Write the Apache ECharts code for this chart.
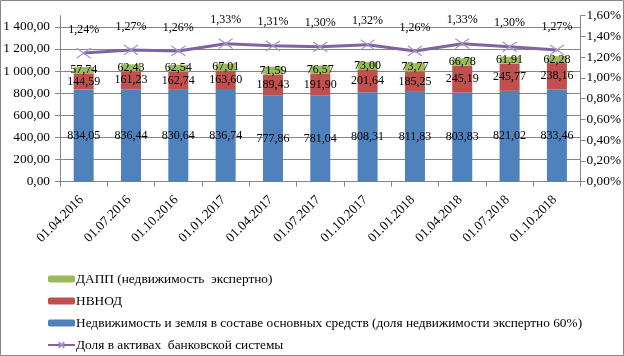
<!DOCTYPE html>
<html><head><meta charset="utf-8">
<script src="https://cdn.jsdelivr.net/npm/echarts@6/dist/echarts.min.js"></script>
<style>html,body{margin:0;padding:0;background:#fff}#c{width:624px;height:356px}</style>
</head><body><div id="c"></div>
<script>
const categories = ['01.04.2016','01.07.2016','01.10.2016','01.01.2017','01.04.2017','01.07.2017','01.10.2017','01.01.2018','01.04.2018','01.07.2018','01.10.2018'];
const realEstate = [834.05,836.44,830.64,836.74,777.86,781.04,808.31,811.83,803.83,821.02,833.46];
const nvnod = [144.59,161.23,162.74,163.60,189.43,191.90,201.64,185.25,245.19,245.77,238.16];
const dapp = [57.74,62.43,62.54,67.01,71.59,76.57,73.00,73.77,66.78,61.91,62.28];
const share = [1.24,1.27,1.26,1.33,1.31,1.30,1.32,1.26,1.33,1.30,1.27];
const names = ['ДАПП (недвижимость  экспертно)','НВНОД','Недвижимость и земля в составе основных средств (доля недвижимости экспертно 60%)','Доля в активах  банковской системы'];

const FONT = 'Liberation Serif';
const AX = 13.33;
const fmt2 = v => v.toFixed(2).replace('.', ',');
const fmtAxis = v => {
  const s = v.toFixed(2).replace('.', ',');
  const [i, d] = s.split(',');
  return i.replace(/\B(?=(\d{3})+(?!\d))/g, ' ') + ',' + d;
};
const barLabel = {show:true, position:'inside', color:'#000', fontFamily:FONT, fontSize:12, formatter:p=>fmt2(p.value)};

const chart = echarts.init(document.getElementById('c'));
chart.setOption({
  animation:false,
  textStyle:{fontFamily:FONT},
  graphic:[{type:'rect', shape:{x:0.5,y:0.5,width:623,height:355}, style:{fill:'none', stroke:'#868686', lineWidth:1}, silent:true}],
  grid:{left:60, right:43, top:15.7, bottom:174.3},
  legend:{
    orient:'vertical', left:47, top:272, padding:0, itemWidth:27, itemHeight:7, itemGap:8,
    textStyle:{fontFamily:FONT, fontSize:AX, color:'#000', lineHeight:14, padding:[0,0,0,-4]},
    data:[names[0],names[1],names[2],names[3]]
  },
  xAxis:{
    type:'category', data:categories, boundaryGap:true,
    axisLine:{lineStyle:{color:'#868686'}},
    axisTick:{show:true, length:5, lineStyle:{color:'#868686'}},
    axisLabel:{rotate:45, interval:0, fontFamily:FONT, fontSize:AX, color:'#000', margin:14, padding:[0,3,0,0]}
  },
  yAxis:[{
    type:'value', min:0, max:1500, interval:200,
    axisLine:{show:true, lineStyle:{color:'#868686'}},
    axisTick:{show:true, length:5, lineStyle:{color:'#868686'}},
    axisLabel:{fontFamily:FONT, fontSize:AX, color:'#000', margin:10, showMaxLabel:false, formatter:fmtAxis},
    splitLine:{show:true, showMaxLine:false, lineStyle:{color:'#868686'}}
  },{
    type:'value', min:0, max:1.6, interval:0.2,
    axisLine:{show:true, lineStyle:{color:'#868686'}},
    axisTick:{show:true, length:5, lineStyle:{color:'#868686'}},
    axisLabel:{fontFamily:FONT, fontSize:AX, color:'#000', margin:6, formatter:v=>v.toFixed(2).replace('.', ',')+'%'},
    splitLine:{show:false}
  }],
  series:[
    {name:names[2], type:'bar', stack:'s', data:realEstate, barWidth:20, itemStyle:{color:'#4F81BD'}, label:barLabel},
    {name:names[1], type:'bar', stack:'s', data:nvnod, barWidth:20, itemStyle:{color:'#C0504D'}, label:barLabel},
    {name:names[0], type:'bar', stack:'s', data:dapp, barWidth:20, itemStyle:{color:'#9BBB59'}, label:barLabel},
    {name:names[3], type:'line', yAxisIndex:1, data:share,
     lineStyle:{color:'#8064A2', width:3},
     symbol:'path://M0,0L14,10M14,0L0,10', symbolSize:[14,10],
     itemStyle:{color:'#8064A2', borderColor:'#A592C8', borderWidth:1.2},
     label:{show:true, position:'top', distance:12, color:'#000', fontFamily:FONT, fontSize:12, formatter:p=>fmt2(p.value)+'%'},
     z:5}
  ]
});
</script></body></html>
